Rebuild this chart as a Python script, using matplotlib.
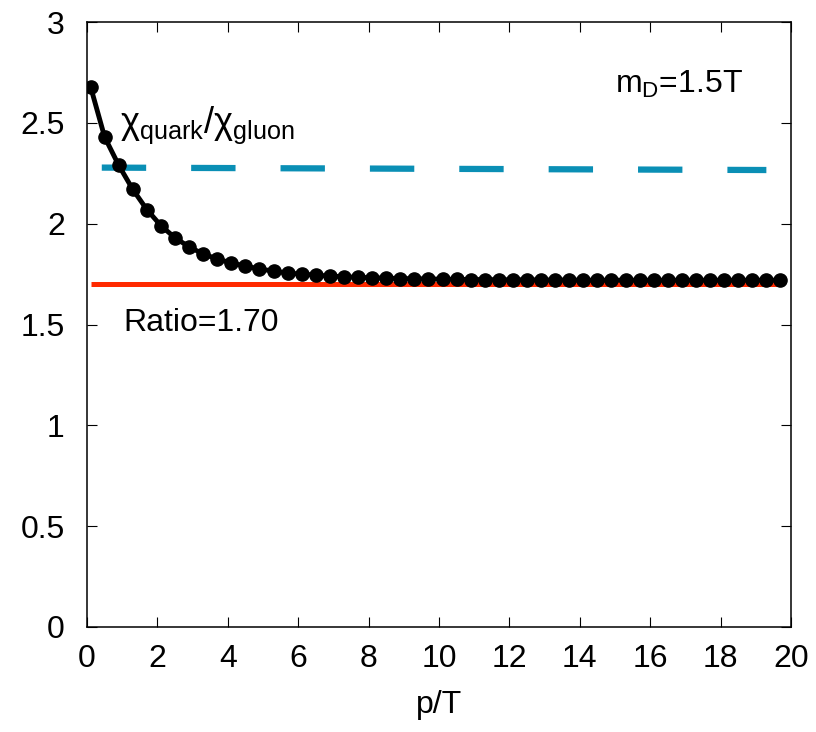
import numpy as np
import matplotlib
matplotlib.use("Agg")
import matplotlib.pyplot as plt
from matplotlib.ticker import FormatStrFormatter

# chi_quark / chi_gluon ratio vs p/T, m_D = 1.5T
p_over_T = [0.1 + 0.4 * k for k in range(50)]
ratio = [2.68, 2.43, 2.29, 2.17, 2.07, 1.99, 1.93, 1.885, 1.85, 1.825,
         1.805, 1.79, 1.775, 1.765, 1.755, 1.75, 1.745, 1.74, 1.737, 1.734,
         1.732, 1.73, 1.728, 1.727, 1.726, 1.725, 1.724, 1.723, 1.723, 1.722,
         1.722, 1.722, 1.721, 1.721, 1.721, 1.72, 1.72, 1.72, 1.72, 1.72,
         1.72, 1.72, 1.72, 1.72, 1.72, 1.72, 1.72, 1.72, 1.72, 1.72]

dashed_x = [0.42, 19.3]
dashed_y = [2.278, 2.266]

asym_x = [0.1, 19.7]
asym_y = [1.70, 1.70]

plt.rcParams["font.family"] = ["Liberation Sans", "DejaVu Sans"]
plt.rcParams["mathtext.fontset"] = "custom"
plt.rcParams["mathtext.rm"] = "Liberation Sans"
plt.rcParams["mathtext.it"] = "Liberation Sans:italic"

fig = plt.figure(figsize=(8.16, 7.32), dpi=100)
ax = fig.add_axes([87 / 816, 1 - 627 / 732, (791 - 87) / 816, (627 - 22) / 732])

ax.plot(dashed_x, dashed_y, color="#0a8fb5", lw=4.5, dashes=(7.1, 7.2),
        solid_capstyle="butt", dash_capstyle="butt", zorder=2)
ax.plot(asym_x, asym_y, color="#ff2a00", lw=3.6, solid_capstyle="butt", zorder=2)
ax.plot(p_over_T, ratio, color="black", lw=3.5, marker="o", markersize=9.5, zorder=3)

ax.set_xlim(0, 20)
ax.set_ylim(0, 3)
ax.set_xticks(np.arange(0, 21, 2))
ax.set_yticks(np.arange(0, 3.01, 0.5))
ax.yaxis.set_major_formatter(FormatStrFormatter("%g"))
ax.tick_params(direction="in", length=7, width=0.8, top=True, right=True,
               labelsize=23, pad=12)
ax.tick_params(axis="y", pad=16)
for s in ax.spines.values():
    s.set_linewidth(1.1)

ax.set_xlabel("p/T", fontsize=23, labelpad=12)

ax.text(0.95, 2.45, r"χ$_{\mathrm{quark}}$/χ$_{\mathrm{gluon}}$", fontsize=26)
ax.text(15.0, 2.65, r"m$_{\mathrm{D}}$=1.5T", fontsize=23)
ax.text(1.03, 1.47, "Ratio=1.70", fontsize=23)

fig.savefig("out.png", dpi=100)
